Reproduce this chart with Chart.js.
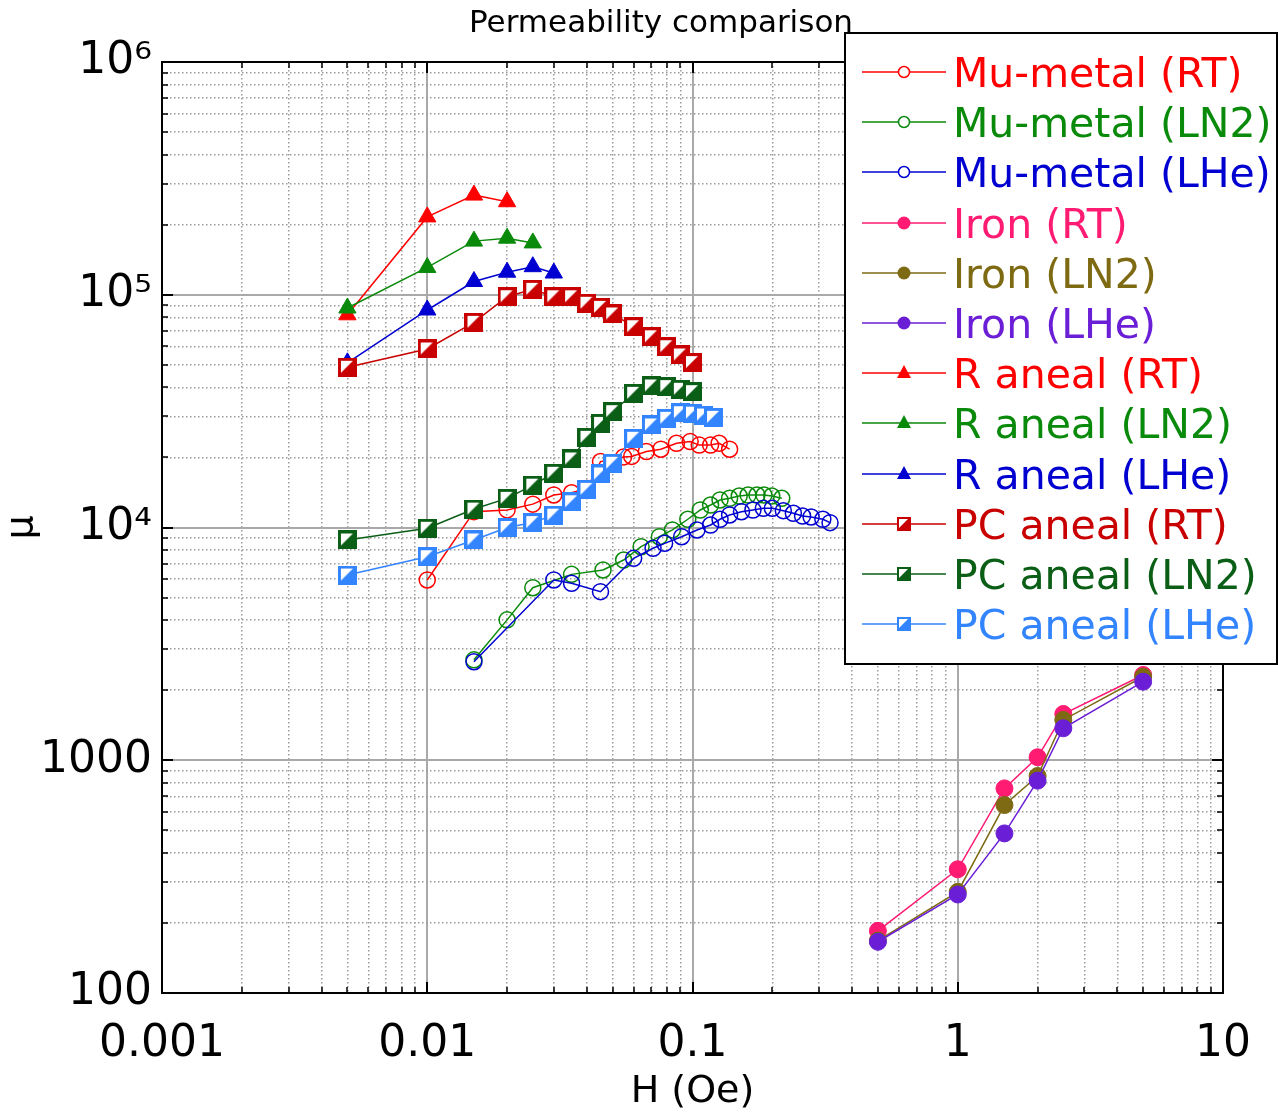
<!DOCTYPE html>
<html>
<head>
<meta charset="utf-8">
<title>Permeability comparison</title>
<script src="https://cdn.jsdelivr.net/npm/chart.js@4/dist/chart.umd.min.js"></script>
<style>
  html, body { margin: 0; padding: 0; background: #fff; }
  #wrap { width: 1278px; height: 1112px; position: relative; }
</style>
</head>
<body>
<div id="wrap"><canvas id="permChart"></canvas></div>
<script>
/* Permeability vs H, log-log */
(function () {
  'use strict';

  // --- data: H (Oe) and permeability mu ---
  var muMetalRtH = [0.01, 0.015, 0.02, 0.025, 0.03, 0.035, 0.04, 0.045, 0.055, 0.059, 0.067, 0.076, 0.087, 0.098, 0.106, 0.117, 0.126, 0.138];
  var muMetalRtMu = [5950, 11700, 11900, 12600, 13800, 14100, 14700, 19200, 20100, 20200, 21200, 21700, 23000, 23400, 22600, 22600, 23000, 21700];

  var muMetalLn2H = [0.015, 0.02, 0.025, 0.035, 0.046, 0.055, 0.064, 0.075, 0.084, 0.096, 0.107, 0.117, 0.127, 0.138, 0.15, 0.162, 0.175, 0.186, 0.199, 0.217];
  var muMetalLn2Mu = [2700, 4010, 5510, 6290, 6570, 7250, 8270, 9130, 9760, 10850, 11890, 12490, 13130, 13350, 13650, 13790, 13790, 13790, 13650, 13350];

  var muMetalLheH = [0.015, 0.03, 0.035, 0.045, 0.06, 0.071, 0.0785, 0.091, 0.104, 0.117, 0.127, 0.138, 0.153, 0.169, 0.185, 0.2, 0.22, 0.24, 0.26, 0.28, 0.31, 0.33];
  var muMetalLheMu = [2650, 5950, 5760, 5300, 7370, 8140, 8550, 9130, 9760, 10250, 10850, 11320, 11690, 11890, 12090, 12090, 11810, 11510, 11200, 11100, 10850, 10490];

  var ironH = [0.5, 1, 1.5, 2, 2.5, 5];
  var ironRtMu = [185, 340, 757, 1030, 1580, 2325];
  var ironLn2Mu = [168, 272, 642, 856, 1490, 2285];
  var ironLheMu = [166, 265, 485, 817, 1372, 2175];

  var rAnealRtH = [0.005, 0.01, 0.015, 0.02];
  var rAnealRtMu = [82000, 216000, 268000, 251000];
  var rAnealLn2H = [0.005, 0.01, 0.015, 0.02, 0.025];
  var rAnealLn2Mu = [87700, 131000, 170000, 175000, 167000];
  var rAnealLheH = [0.005, 0.01, 0.015, 0.02, 0.025, 0.03];
  var rAnealLheMu = [51000, 86000, 114000, 125000, 132000, 124000];

  var pcH = [0.005, 0.01, 0.015, 0.02, 0.025, 0.03, 0.035, 0.04, 0.045, 0.05, 0.06, 0.07, 0.08, 0.09, 0.1];
  var pcRtMu = [48800, 58500, 76100, 98100, 105500, 98000, 98000, 91900, 88300, 82700, 72900, 66000, 59800, 55100, 51100];
  var pcLn2Mu = [8840, 9920, 12000, 13340, 15200, 17100, 19700, 24400, 28000, 31450, 37700, 40550, 40300, 39250, 38340];
  var pcLheH = [0.005, 0.01, 0.015, 0.02, 0.025, 0.03, 0.035, 0.04, 0.045, 0.05, 0.06, 0.07, 0.08, 0.09, 0.1, 0.11, 0.12];
  var pcLheMu = [6250, 7490, 8840, 10000, 10500, 11300, 12900, 14590, 16980, 18880, 24170, 27570, 29450, 31130, 31000, 30430, 29740];

  var xTickValues = [0.001, 0.01, 0.1, 1, 10];
  var xTickLabels = ['0.001', '0.01', '0.1', '1', '10'];
  var yTickValues = [100, 1000, 10000, 100000, 1000000];
  var yTickLabels = ['100', '1000', '10\u2074', '10\u2075', '10\u2076'];

  var series = [
    { label: 'Mu-metal (RT)', h: muMetalRtH, mu: muMetalRtMu, color: '#ff0000', marker: 'open' },
    { label: 'Mu-metal (LN2)', h: muMetalLn2H, mu: muMetalLn2Mu, color: '#0a8a0a', marker: 'open' },
    { label: 'Mu-metal (LHe)', h: muMetalLheH, mu: muMetalLheMu, color: '#0000d0', marker: 'open' },
    { label: 'Iron (RT)', h: ironH, mu: ironRtMu, color: '#ff1a72', marker: 'dot' },
    { label: 'Iron (LN2)', h: ironH, mu: ironLn2Mu, color: '#7d6a12', marker: 'dot' },
    { label: 'Iron (LHe)', h: ironH, mu: ironLheMu, color: '#6a1fd6', marker: 'dot' },
    { label: 'R aneal (RT)', h: rAnealRtH, mu: rAnealRtMu, color: '#ff0000', marker: 'tri' },
    { label: 'R aneal (LN2)', h: rAnealLn2H, mu: rAnealLn2Mu, color: '#0a8a0a', marker: 'tri' },
    { label: 'R aneal (LHe)', h: rAnealLheH, mu: rAnealLheMu, color: '#0000d0', marker: 'tri' },
    { label: 'PC aneal (RT)', h: pcH, mu: pcRtMu, color: '#c80000', marker: 'pc' },
    { label: 'PC aneal (LN2)', h: pcH, mu: pcLn2Mu, color: '#0b5e16', marker: 'pc' },
    { label: 'PC aneal (LHe)', h: pcLheH, mu: pcLheMu, color: '#3384ff', marker: 'pc' }
  ];

  var FONT = '"DejaVu Sans", "Noto Sans", sans-serif';

  function isDecade(v) {
    var l = Math.log10(v);
    return Math.abs(l - Math.round(l)) < 1e-6;
  }
  function isWholeStep(v) {
    var s = v / Math.pow(10, Math.floor(Math.log10(v) + 1e-9));
    return Math.abs(s - Math.round(s)) < 1e-6;
  }
  function labelFor(values, labels, v) {
    for (var i = 0; i < values.length; i++) {
      if (Math.abs(Math.log10(v) - Math.log10(values[i])) < 1e-6) return labels[i];
    }
    return '';
  }

  // half-filled square marker used for the PC aneal traces
  function pcSquare(color, size) {
    var c = document.createElement('canvas');
    c.width = size; c.height = size;
    var g = c.getContext('2d');
    g.fillStyle = color;
    g.fillRect(0, 0, size, size);
    var b = Math.round(size * 0.17);
    g.fillStyle = '#fff';
    g.beginPath();
    g.moveTo(b, b);
    g.lineTo(size - b - 1, b);
    g.lineTo(b, size - b - 1);
    g.closePath();
    g.fill();
    return c;
  }

  function toDataset(s, i) {
    var ds = {
      label: s.label,
      data: s.h.map(function (h, k) { return { x: h, y: s.mu[k] }; }),
      borderColor: s.color,
      backgroundColor: s.color,
      borderWidth: 1.5,
      tension: 0,
      order: series.length - i,
      pointBorderColor: s.color,
      pointBackgroundColor: s.color,
      pointBorderWidth: 1,
      pointRadius: 8.5,
      pointHoverRadius: 8.5
    };
    if (s.marker === 'open') {
      ds.pointStyle = 'circle';
      ds.pointRadius = 8;
      ds.pointHoverRadius = 8;
      ds.pointBorderWidth = 1.5;
      ds.pointBackgroundColor = 'rgba(0,0,0,0)';
    } else if (s.marker === 'tri') {
      ds.pointStyle = 'triangle';
      ds.pointRadius = 10;
      ds.pointHoverRadius = 10;
    } else if (s.marker === 'pc') {
      ds.pointStyle = pcSquare(s.color, 19);
    }
    return ds;
  }

  var majorGrid = function (ctx) {
    return ctx.tick && isDecade(ctx.tick.value) ? '#a9a9a9' : 'rgba(0,0,0,0)';
  };
  var minorGrid = function (ctx) {
    if (!ctx.tick) return 'rgba(0,0,0,0)';
    var v = ctx.tick.value;
    return !isDecade(v) && isWholeStep(v) ? '#9c9c9c' : 'rgba(0,0,0,0)';
  };

  // frame with inward tick marks on all four sides
  var framePlugin = {
    id: 'frameTicks',
    afterDraw: function (chart) {
      var ctx = chart.ctx, a = chart.chartArea;
      ctx.save();
      ctx.strokeStyle = '#000';
      ctx.lineCap = 'butt';
      chart.scales.x.ticks.forEach(function (t) {
        var len = isDecade(t.value) ? 11 : (isWholeStep(t.value) ? 6 : 0);
        if (!len) return;
        var p = Math.round(chart.scales.x.getPixelForValue(t.value));
        ctx.lineWidth = isDecade(t.value) ? 2 : 1.5;
        ctx.beginPath();
        ctx.moveTo(p, a.bottom); ctx.lineTo(p, a.bottom - len);
        ctx.moveTo(p, a.top); ctx.lineTo(p, a.top + len);
        ctx.stroke();
      });
      chart.scales.y.ticks.forEach(function (t) {
        var len = isDecade(t.value) ? 11 : (isWholeStep(t.value) ? 6 : 0);
        if (!len) return;
        var p = Math.round(chart.scales.y.getPixelForValue(t.value));
        ctx.lineWidth = isDecade(t.value) ? 2 : 1.5;
        ctx.beginPath();
        ctx.moveTo(a.left, p); ctx.lineTo(a.left + len, p);
        ctx.moveTo(a.right, p); ctx.lineTo(a.right - len, p);
        ctx.stroke();
      });
      ctx.lineWidth = 2;
      ctx.strokeRect(a.left, a.top, a.right - a.left, a.bottom - a.top);
      ctx.restore();
    }
  };

  function drawMarker(ctx, s, x, y) {
    ctx.save();
    ctx.strokeStyle = s.color;
    ctx.fillStyle = s.color;
    ctx.lineWidth = 1.5;
    ctx.beginPath();
    if (s.marker === 'open') {
      ctx.fillStyle = '#fff';
      ctx.arc(x, y, 5.5, 0, Math.PI * 2);
      ctx.fill();
      ctx.stroke();
    } else if (s.marker === 'dot') {
      ctx.arc(x, y, 6.5, 0, Math.PI * 2);
      ctx.fill();
    } else if (s.marker === 'tri') {
      ctx.moveTo(x, y - 8);
      ctx.lineTo(x + 7, y + 5);
      ctx.lineTo(x - 7, y + 5);
      ctx.closePath();
      ctx.fill();
    } else {
      ctx.drawImage(pcSquare(s.color, 14), x - 7, y - 7);
    }
    ctx.restore();
  }

  // boxed legend overlapping the upper right of the plot
  var legendBox = {
    id: 'legendBox',
    afterDraw: function (chart) {
      var ctx = chart.ctx;
      var left = 845, top = 33, w = 432, h = 631;
      ctx.save();
      ctx.fillStyle = '#fff';
      ctx.fillRect(left, top, w, h);
      ctx.strokeStyle = '#000';
      ctx.lineWidth = 2;
      ctx.strokeRect(left, top, w, h);
      ctx.font = '41px ' + FONT;
      ctx.textBaseline = 'middle';
      ctx.textAlign = 'left';
      series.forEach(function (s, i) {
        var y = Math.round(72 + i * 50.2);
        ctx.strokeStyle = s.color;
        ctx.lineWidth = 1.5;
        ctx.beginPath();
        ctx.moveTo(862, y); ctx.lineTo(946, y);
        ctx.stroke();
        drawMarker(ctx, s, 904, y);
        ctx.fillStyle = s.color;
        ctx.fillText(s.label, 953, y + 4);
      });
      ctx.restore();
    }
  };

  new Chart(document.getElementById('permChart'), {
    type: 'line',
    data: { datasets: series.map(toDataset) },
    plugins: [framePlugin, legendBox],
    options: {
      responsive: true,
      maintainAspectRatio: false,
      animation: false,
      events: [],
      layout: { padding: { left: 44, top: 0, right: 0, bottom: 0 } },
      plugins: {
        legend: { display: false },
        tooltip: { enabled: false },
        title: {
          display: true,
          text: 'Permeability comparison',
          color: '#000',
          font: { family: FONT, size: 31, weight: 'normal' },
          padding: { top: 5, bottom: 19.8 }
        }
      },
      scales: {
        x: {
          type: 'logarithmic',
          position: 'bottom',
          min: 0.001,
          max: 10,
          afterFit: function (s) { s.height = 119; },
          grid: { color: majorGrid, lineWidth: 2, drawTicks: false },
          border: { display: false },
          ticks: {
            autoSkip: false, maxRotation: 0, minRotation: 0, padding: 25,
            color: '#000', font: { family: FONT, size: 44 },
            callback: function (v) { return labelFor(xTickValues, xTickLabels, v); }
          },
          title: {
            display: true, text: 'H (Oe)', color: '#000',
            font: { family: FONT, size: 38 }, padding: { top: 0, bottom: -3 }
          }
        },
        x2: {
          type: 'logarithmic',
          position: 'top',
          min: 0.001,
          max: 10,
          afterFit: function (s) { s.height = 0; },
          grid: { color: minorGrid, lineWidth: 1.5, drawTicks: false },
          border: { display: false, dash: [1.5, 2.5] },
          ticks: { display: false }
        },
        y: {
          type: 'logarithmic',
          position: 'left',
          min: 100,
          max: 1000000,
          afterFit: function (s) { s.width = 118; },
          grid: { color: majorGrid, lineWidth: 2, drawTicks: false },
          border: { display: false },
          ticks: {
            autoSkip: false, padding: 10,
            color: '#000', font: { family: FONT, size: 44 },
            callback: function (v) { return labelFor(yTickValues, yTickLabels, v); }
          },
          title: {
            display: true, text: '\u03bc', color: '#000',
            font: { family: FONT, size: 38 }, padding: { top: -45, bottom: 0 }
          }
        },
        y2: {
          type: 'logarithmic',
          position: 'right',
          min: 100,
          max: 1000000,
          afterFit: function (s) { s.width = 55; },
          grid: { color: minorGrid, lineWidth: 1.5, drawTicks: false },
          border: { display: false, dash: [1.5, 2.5] },
          ticks: { display: false }
        }
      }
    }
  });
})();
</script>
</body>
</html>
